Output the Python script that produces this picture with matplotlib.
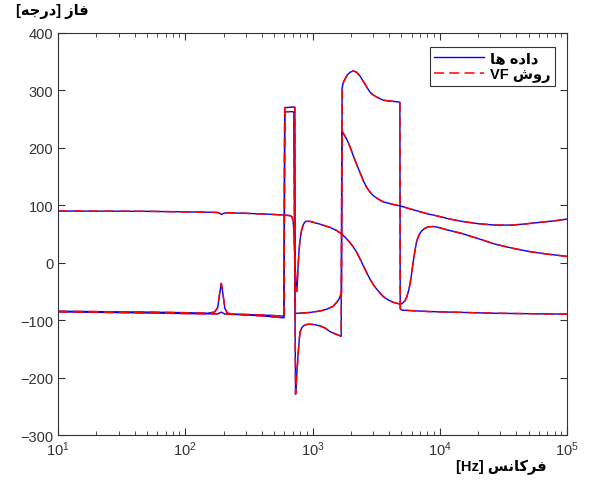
import matplotlib
matplotlib.use("Agg")
import matplotlib.pyplot as plt
from matplotlib.ticker import LogLocator, NullFormatter

plt.rcParams["font.family"] = ["Liberation Sans", "DejaVu Sans"]
plt.rcParams["mathtext.fontset"] = "custom"
plt.rcParams["mathtext.rm"] = "Liberation Sans"
plt.rcParams["mathtext.it"] = "Liberation Sans:italic"

# Persian labels, pre-shaped (presentation forms) in visual left-to-right order
Y_LABEL = "[\uFEEA\uFE9F\uFEAD\uFEA9] \uFEAF\uFE8E\uFED3"          # فاز [درجه]
X_LABEL = "[Hz] \uFEB2\uFEE7\uFE8E\uFB90\uFEAE\uFED3"              # فرکانس [Hz]
LABEL_DATA = "\uFE8E\uFEEB \uFEE9\uFEA9\uFE8D\uFEA9"               # داده ها
LABEL_VF = "VF \uFEB5\uFEED\uFEAD"                                 # روش VF

# curve starting at +90 deg
freq_a = [10, 50, 100, 150, 180, 188, 193, 198, 210, 300, 450, 600, 665, 690,
          705, 716, 726, 735, 744, 751, 758, 769, 783, 798, 820, 842, 865, 889,
          955, 1150, 1373, 1550, 1696, 1830, 1971, 2100, 2225, 2360, 2506, 2660,
          2831, 3000, 3196, 3400, 3600, 3950, 4315, 4873, 5027, 5300, 5500, 5700,
          5840, 6000, 6200, 6400, 6590, 6900, 7215, 7650, 8130, 8900, 9745, 12000,
          14890, 20000, 27200, 36000, 49700, 70000, 100000]
phase_a = [90, 89.5, 88.5, 88, 87.5, 85.5, 84, 85.5, 87, 86, 84.5, 83, 82, 80,
           72, 50, 10, -20, -45, -50, -40, -10, 20, 40, 56, 65, 70, 72,
           72, 67, 61.5, 56, 50, 43, 35, 27, 18, 7, -5, -17,
           -28.6, -38, -46, -53, -59, -65, -69, -72, -71.5, -67, -60, -48,
           -37, -20, 3, 22, 38, 49, 55.6, 60, 62.6, 63, 61.5, 56,
           51, 42, 32.4, 26, 19.7, 15, 11]

# curve starting at -85 deg with the peak near 190 Hz
freq_c = [10, 50, 100, 150, 170, 180, 186, 192, 198, 205, 215, 240, 400, 597,
          605, 700, 727, 733, 769, 850, 955, 1150, 1291, 1450, 1549, 1600, 1640,
          1690, 1710, 1750, 1800, 1880, 1971, 2093, 2225, 2362, 2506, 2666, 2831,
          3000, 3196, 3400, 3600, 4063, 4723, 4860, 4890, 5027, 8130, 27200, 100000]
phase_c = [-84.5, -86, -87, -88, -86, -78, -55, -36, -55, -80, -88, -89.5, -91, -93,
           270, 271, 270.5, -88, -88, -87.5, -86.6, -84, -81, -76, -69, -65, -60,
           -52, 305, 314, 320, 327, 331.6, 334, 331.6, 325, 316, 306, 297,
           292, 288.5, 285.5, 283, 281.5, 280, 279, -80, -82.6, -85, -88, -89.6]

# second curve starting at -85 deg (deep notch near 740 Hz)
freq_d = [10, 50, 100, 150, 180, 192, 205, 240, 400, 597, 605, 700, 712, 736,
          745, 755, 773, 786, 798, 820, 847, 900, 955, 1050, 1145, 1260, 1373,
          1550, 1680, 1700, 1780, 1858, 1970, 2093, 2225, 2362, 2506, 2666, 2831,
          3006, 3300, 3600, 4200, 4873, 5700, 6590, 8130, 9460, 12000, 14890,
          20000, 27200, 36700, 47000, 59600, 80000, 100000]
phase_d = [-85.5, -87.5, -88.5, -89, -89, -86, -89.5, -90, -92.5, -96, 263, 263, 262, -229,
           -212, -190, -156, -135, -121, -114, -110, -107.5, -107, -108, -110, -114, -120,
           -125, -128, 230, 222, 215, 202, 186, 171, 157, 143, 131, 123,
           116.6, 110.5, 106, 102, 99, 94.5, 90.4, 84.7, 81.7, 76, 72,
           68, 65.5, 65.5, 67.5, 70, 73, 76]

curves = [(freq_a, phase_a), (freq_c, phase_c), (freq_d, phase_d)]

fig = plt.figure(figsize=(5.9, 4.81), dpi=100)
ax = fig.add_axes([58 / 590, 1 - 436 / 481, 509 / 590, 402 / 481])

for i, (f, p) in enumerate(curves):
    ax.plot(f, p, color="b", lw=1.0, label=LABEL_DATA if i == 0 else None)
for i, (f, p) in enumerate(curves):
    ax.plot(f, p, color="r", lw=1.1, ls=(0, (6.5, 3.5)),
            label=LABEL_VF if i == 0 else None)

ax.set_xscale("log")
ax.set_xlim(10, 1e5)
ax.set_ylim(-300, 400)
ax.set_yticks(range(-300, 401, 100))
ax.xaxis.set_minor_locator(LogLocator(base=10, subs=range(2, 10), numticks=20))
ax.xaxis.set_minor_formatter(NullFormatter())

ax.tick_params(which="both", direction="in", top=True, right=True,
               labelsize=10.5, labelcolor="#333333", color="#333333")
ax.tick_params(which="major", length=5)
ax.tick_params(which="minor", length=3)
for s in ax.spines.values():
    s.set_color("#333333")
    s.set_linewidth(0.8)

ax.text(0.87, -0.077, X_LABEL, transform=ax.transAxes, ha="center", va="center",
        fontsize=10.5, fontweight="bold")
ax.text(-0.012, 1.055, Y_LABEL, transform=ax.transAxes, ha="center", va="center",
        fontsize=10.5, fontweight="bold")

leg = ax.legend(loc="upper right", bbox_to_anchor=(0.976, 0.965), borderaxespad=0,
                fancybox=False, framealpha=1, edgecolor="#333333", handlelength=3.4,
                prop={"weight": "bold", "size": 10.5}, borderpad=0.3,
                labelspacing=0.1, handletextpad=0.4)
leg.get_frame().set_linewidth(0.8)

fig.savefig("out.png", dpi=100)
